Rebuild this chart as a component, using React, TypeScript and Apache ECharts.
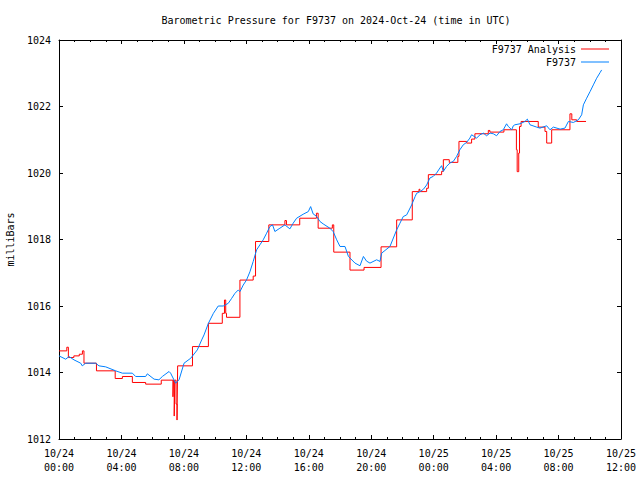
import React, { useEffect, useRef } from "react";
import * as echarts from "echarts";

// Hours since 2024-10-24 00:00 UTC
const obsHours = [
  0, 0.43, 0.64, 0.96, 1.39, 1.49, 1.71, 2.35, 2.56, 2.99, 3.63, 4.06, 4.7, 4.91, 5.55, 5.66, 6.09, 6.4, 6.62,
  7.05, 7.15, 7.47, 7.69, 8.01, 8.44, 8.86, 9.14, 9.29, 9.57, 9.89, 10.2, 10.52, 10.84, 11.06, 11.27, 11.48,
  11.59, 11.8, 12.01, 12.23, 12.44, 12.66, 12.87, 13.08, 13.3, 13.51, 13.68, 13.83, 14.15, 14.47, 14.79, 15.0,
  15.22, 15.64, 15.97, 16.12, 16.28, 16.49, 16.72, 16.92, 17.35, 17.56, 17.79, 18.0, 18.32, 18.54, 18.96, 19.28,
  19.5, 19.7, 19.92, 20.35, 20.56, 20.67, 21.2, 21.63, 21.84, 22.05, 22.27, 22.59, 22.81, 22.91, 23.13, 23.34,
  23.55, 23.76, 23.98, 24.19, 24.4, 24.51, 24.62, 24.83, 25.04, 25.26, 25.47, 25.68, 25.9, 26.11, 26.32, 26.43,
  26.75, 26.97, 27.18, 27.39, 27.61, 27.82, 28.03, 28.25, 28.46, 28.67, 28.78, 28.89, 29.0, 29.1, 29.2, 29.53,
  29.85, 30.0, 30.17, 30.6, 30.81, 31.24, 31.45, 31.67, 32.1, 32.41, 32.63, 32.95, 33.27, 33.48, 33.59, 33.8,
  34.02, 34.23, 34.44, 34.66, 34.76,
];
const obsPressure = [
  1014.5, 1014.4, 1014.48, 1014.38, 1014.28, 1014.2, 1014.28, 1014.28, 1014.2, 1014.17, 1014.05, 1013.98, 1013.98,
  1013.88, 1013.88, 1013.96, 1013.8, 1013.78, 1013.88, 1014.03, 1013.98, 1013.68, 1013.78, 1014.28, 1014.43,
  1014.68, 1014.98, 1015.13, 1015.48, 1015.78, 1016.0, 1016.0, 1016.08, 1016.23, 1016.38, 1016.48, 1016.43,
  1016.63, 1016.78, 1017.03, 1017.34, 1017.69, 1017.84, 1017.99, 1018.19, 1018.39, 1018.44, 1018.24, 1018.34,
  1018.44, 1018.32, 1018.49, 1018.64, 1018.76, 1018.84, 1018.99, 1018.77, 1018.7, 1018.54, 1018.47, 1018.34,
  1018.24, 1017.99, 1017.79, 1017.79, 1017.49, 1017.29, 1017.21, 1017.49, 1017.35, 1017.29, 1017.39, 1017.34,
  1017.59, 1017.79, 1018.29, 1018.49, 1018.69, 1018.74, 1019.04, 1019.29, 1019.39, 1019.44, 1019.51, 1019.64,
  1019.85, 1019.9, 1020.0, 1020.15, 1020.22, 1020.05, 1020.2, 1020.3, 1020.35, 1020.5, 1020.7, 1020.85, 1020.92,
  1021.05, 1021.15, 1021.05, 1021.15, 1021.2, 1021.12, 1021.2, 1021.18, 1021.12, 1021.25, 1021.3, 1021.48,
  1021.4, 1021.35, 1021.3, 1021.42, 1021.45, 1021.48, 1021.55, 1021.62, 1021.45, 1021.38, 1021.35, 1021.42,
  1021.3, 1021.38, 1021.32, 1021.35, 1021.55, 1021.52, 1021.6, 1021.75, 1022.05, 1022.25, 1022.45, 1022.65,
  1022.85, 1023.02, 1023.1,
];

const anaHours = [
  0, 0.5, 0.6, 0.95, 1.3, 1.5, 1.6, 2.4, 3.6, 4.06, 4.7, 5.55, 6.55, 7.3, 7.33, 7.38, 7.42, 7.5, 7.56, 7.6,
  8.55, 9.57, 10.46, 10.6, 10.68, 10.73, 11.59, 12.44, 12.59, 13.44, 14.47, 14.57, 15.42, 16.49, 16.6, 17.51,
  17.6, 18.64, 19.54, 20.63, 21.63, 22.63, 23.06, 23.12, 23.55, 23.66, 24.51, 24.62, 25.0, 25.55, 25.62, 26.11,
  26.43, 26.64, 27.5, 27.6, 28.5, 29.3, 29.35, 29.45, 29.5, 29.6, 30.7, 31.13, 31.24, 31.56, 32.73, 32.85,
  33.16, 33.76,
];
const anaPressure = [
  1014.65, 1014.76, 1014.45, 1014.5, 1014.55, 1014.65, 1014.28, 1014.05, 1013.82, 1013.88, 1013.7, 1013.65,
  1013.77, 1013.27, 1013.77, 1012.69, 1013.77, 1013.05, 1012.57, 1014.2, 1014.78, 1015.48, 1015.78, 1016.18,
  1015.78, 1015.66, 1016.78, 1016.9, 1017.94, 1018.44, 1018.57, 1018.44, 1018.64, 1018.79, 1018.34, 1018.44,
  1017.62, 1017.08, 1017.16, 1017.78, 1018.59, 1019.44, 1019.51, 1019.44, 1019.54, 1019.95, 1020.05, 1020.4,
  1020.32, 1020.5, 1020.95, 1020.9, 1021.02, 1021.18, 1021.28, 1021.23, 1021.3, 1020.7, 1020.04, 1020.6,
  1021.4, 1021.55, 1021.38, 1021.25, 1020.9, 1021.3, 1021.78, 1021.6, 1021.55, 1021.55,
];

const xMin = 0;
const xMax = 36;
const xStep = 4;
const yMin = 1012;
const yMax = 1024;
const yStep = 2;

const titleText = "Barometric Pressure for F9737 on 2024-Oct-24 (time in UTC)";
const yName = "milliBars";
const anaName = "F9737 Analysis";
const obsName = "F9737";

const FONT = "DejaVu Sans Mono";

function fmtHour(v: number): string {
  const day = 24 + Math.floor(v / 24);
  const h = Math.round(v % 24);
  return "10/" + day + "\n" + (h < 10 ? "0" + h : "" + h) + ":00";
}

export default function App() {
  const ref = useRef<HTMLDivElement>(null);
  useEffect(() => {
    if (!ref.current) return;
    const chart = echarts.init(ref.current, null, { renderer: "svg" });
    const axisCommon = {
      type: "value" as const,
      splitLine: { show: false },
      axisLine: { show: true, onZero: false, lineStyle: { color: "#000", width: 1 } },
      axisTick: { show: true, inside: true, length: 4, lineStyle: { color: "#000" } },
    };
    chart.setOption({
      animation: false,
      backgroundColor: "#fff",
      textStyle: { fontFamily: FONT, fontSize: 10, color: "#000" },
      title: {
        text: titleText,
        left: 331,
        textAlign: "center",
        top: 10,
        textStyle: { fontFamily: FONT, fontSize: 10, fontWeight: "normal", color: "#000" },
      },
      legend: {
        orient: "vertical",
        right: 26,
        top: 38,
        align: "right",
        icon: "rect",
        itemWidth: 28,
        itemHeight: 1,
        itemGap: 1,
        textStyle: { fontFamily: FONT, fontSize: 10, color: "#000", lineHeight: 12 },
        data: [anaName, obsName],
      },
      grid: { left: 59, right: 19, top: 40, bottom: 41, outerBoundsMode: "none", containLabel: false },
      xAxis: [
        {
          ...axisCommon,
          position: "bottom",
          min: xMin,
          max: xMax,
          interval: xStep,
          minorTick: { show: true, splitNumber: 4, length: 2, lineStyle: { color: "#000" } },
          axisLabel: {
            formatter: fmtHour,
            margin: 7,
            lineHeight: 14,
            fontFamily: FONT,
            fontSize: 10,
            color: "#000",
            showMinLabel: true,
            showMaxLabel: true,
          },
        },
        {
          ...axisCommon,
          position: "top",
          min: xMin,
          max: xMax,
          interval: xStep,
          minorTick: { show: true, splitNumber: 4, length: 2, lineStyle: { color: "#000" } },
          axisLabel: { show: false },
        },
      ],
      yAxis: [
        {
          ...axisCommon,
          position: "left",
          min: yMin,
          max: yMax,
          interval: yStep,
          name: yName,
          nameLocation: "middle",
          nameRotate: 90,
          nameGap: 44,
          nameTextStyle: { fontFamily: FONT, fontSize: 10, color: "#000" },
          axisLabel: {
            margin: 8,
            fontFamily: FONT,
            fontSize: 10,
            color: "#000",
            formatter: (v: number) => String(v),
          },
        },
        {
          ...axisCommon,
          position: "right",
          min: yMin,
          max: yMax,
          interval: yStep,
          axisLabel: { show: false },
        },
      ],
      series: [
        {
          name: anaName,
          type: "line",
          step: "end",
          xAxisIndex: 0,
          yAxisIndex: 0,
          symbol: "none",
          color: "#ff0000",
          lineStyle: { color: "#ff0000", width: 1 },
          data: anaHours.map((t, i) => [t, anaPressure[i]]),
        },
        {
          name: obsName,
          type: "line",
          xAxisIndex: 0,
          yAxisIndex: 0,
          symbol: "none",
          color: "#0080ff",
          lineStyle: { color: "#0080ff", width: 1 },
          data: obsHours.map((t, i) => [t, obsPressure[i]]),
        },
      ],
    });
    return () => chart.dispose();
  }, []);
  return <div ref={ref} style={{ position: "fixed", left: 0, top: 0, width: 640, height: 480 }} />;
}
